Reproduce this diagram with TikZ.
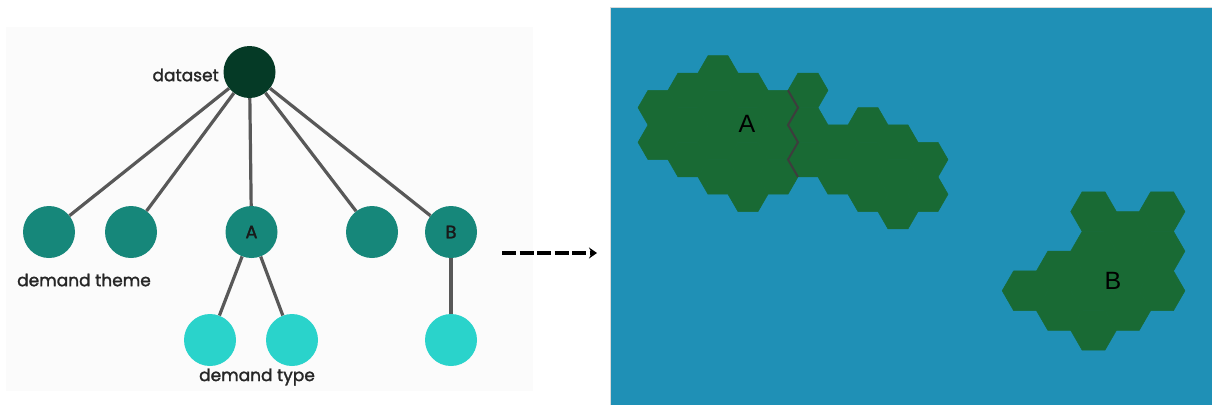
\documentclass[tikz,border=0pt]{standalone}
\usepackage{fontspec}
\setmainfont{Liberation Sans}
\newfontfamily\lblfont[FakeBold=1.6]{Poppins}
\usetikzlibrary{arrows.meta}

\definecolor{rootgreen}{HTML}{053A26}
\definecolor{themeteal}{HTML}{16877A}
\definecolor{typecyan}{HTML}{2AD3CB}
\definecolor{edgegray}{HTML}{585858}
\definecolor{seagblue}{HTML}{1F90B6}
\definecolor{landgreen}{HTML}{196A34}
\definecolor{seamgray}{HTML}{3D3D3D}
\definecolor{panelgray}{HTML}{FBFBFB}
\definecolor{textgray}{HTML}{262626}

\tikzset{
  treenode/.style={circle, minimum size=52pt, inner sep=0pt, draw=none,
    font=\lblfont\fontsize{18}{18}\selectfont, text=black!90},
  rootnode/.style={treenode, fill=rootgreen},
  themenode/.style={treenode, fill=themeteal},
  typenode/.style={treenode, fill=typecyan},
  edge/.style={draw=edgegray, line width=3.2pt},
  lbl/.style={font=\lblfont\fontsize{17}{17}\selectfont, text=textgray, inner sep=0pt},
  hexfill/.style={fill=landgreen, draw=landgreen, line width=0.5pt, line join=round},
  seam/.style={draw=seamgray, line width=2pt, line join=miter},
  maplabel/.style={font=\fontsize{25}{25}\selectfont, text=black, inner sep=0pt},
  dasharrow/.style={draw=black, line width=3.4pt, dash pattern=on 14pt off 3.5pt,
    -{Stealth[length=8pt,width=11pt]}}
}

\begin{document}
\begin{tikzpicture}[x=1pt,y=-1pt]
\useasboundingbox (0,0) rectangle (1212,405);
\fill[white] (0,0) rectangle (1212,405);

% left panel: hierarchy tree
\fill[panelgray] (6,27) rectangle (533,391);

\node[rootnode]  (ds) at (249.5,72) {};
\node[themenode] (t1) at (49,232)  {};
\node[themenode] (t2) at (131,232) {};
\node[themenode] (t3) at (251.5,232) {A};
\node[themenode] (t4) at (372,232) {};
\node[themenode] (t5) at (451,232) {B};
\node[typenode]  (y1) at (210,340) {};
\node[typenode]  (y2) at (292,340) {};
\node[typenode]  (y3) at (451,340) {};

\foreach \k in {t1,t2,t3,t4,t5} { \draw[edge] (ds) -- (\k); }
\draw[edge] (t3) -- (y1);
\draw[edge] (t3) -- (y2);
\draw[edge] (t5) -- (y3);

\node[lbl, anchor=east] (ldataset) at (219,75) {dataset};
\node[lbl] (ltheme) at (84,280) {demand theme};
\node[lbl] (ltype) at (257,377) {demand type};

% dashed arrow between the panels
\coordinate (arrS) at (502,253);
\coordinate (arrE) at (597,253);
\draw[dasharrow] (arrS) -- (arrE);

% right panel: hex map
\fill[seagblue] (610,7) rectangle (1212,405);
\draw[black!15, line width=0.8pt] (610,405) -- (610,7) -- (1212,7);

% region A (two merged areas), side 20
\foreach \c/\r in {0/1,0/2, 1/0,1/1,1/2, 2/0,2/1,2/2,2/3, 3/0,3/1,3/2,3/3, 4/1,4/2,4/3,
                   5/0,5/1,5/2, 6/2,6/3, 7/1,7/2,7/3, 8/2,8/3,8/4, 9/2,9/3} {
  \pgfmathsetmacro\hx{658+30*\c}
  \pgfmathsetmacro\hy{73+34.641*\r+17.3205*mod(\c,2)}
  \path[hexfill] (\hx,\hy) +(20,0) -- +(10,17.3205) -- +(-10,17.3205) -- +(-20,0)
        -- +(-10,-17.3205) -- +(10,-17.3205) -- cycle;
}
\draw[seam] (788,90.32) -- (798,107.64) -- (788,124.96) -- (798,142.28)
            -- (788,159.6) -- (798,176.92);

% region B, side 22.85
\foreach \c/\r in {0/2, 1/1,1/2, 2/0,2/1,2/2,2/3, 3/0,3/1,3/2, 4/0,4/1,4/2} {
  \pgfmathsetmacro\hx{1025+34.275*\c}
  \pgfmathsetmacro\hy{211.6+39.578*\r+19.789*mod(\c,2)}
  \path[hexfill] (\hx,\hy) +(22.85,0) -- +(11.425,19.789) -- +(-11.425,19.789) -- +(-22.85,0)
        -- +(-11.425,-19.789) -- +(11.425,-19.789) -- cycle;
}

\node[maplabel] (hA) at (747,124) {A};
\node[maplabel] (hB) at (1113,281) {B};
\end{tikzpicture}
\end{document}
